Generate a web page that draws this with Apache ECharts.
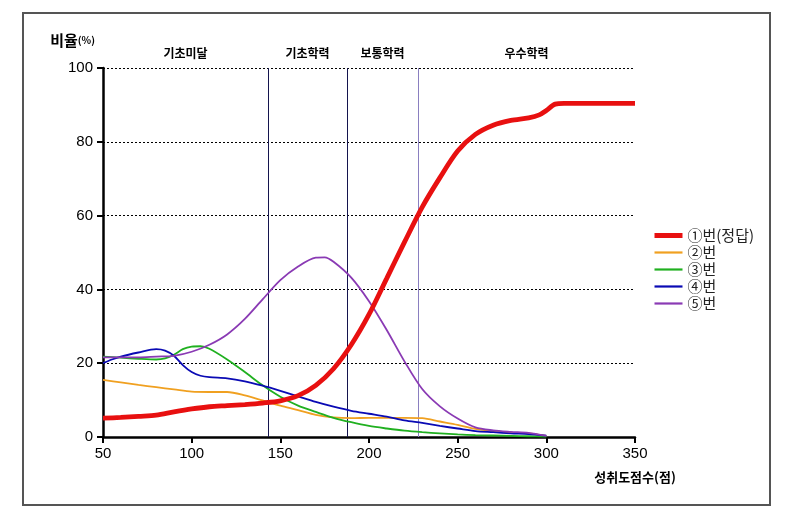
<!DOCTYPE html>
<html><head><meta charset="utf-8">
<script src="https://cdn.jsdelivr.net/npm/echarts@6/dist/echarts.min.js"></script>
<style>html,body{margin:0;padding:0;background:#fff}#c{width:791px;height:521px}</style>
</head><body><div id="c"></div>
<script>
const xTicks = [50, 100, 150, 200, 250, 300, 350];
const seriesNames = ['①번(정답)', '②번', '③번', '④번', '⑤번'];
const s1 = [[50,5.1],[60,5.3],[70,5.6],[80,5.9],[90,6.8],[100,7.6],[110,8.2],[120,8.5],[130,8.8],[140,9.2],[150,9.8],[160,11.2],[170,14],[180,18.5],[190,25],[200,33.2],[210,43],[220,52.8],[230,62.3],[240,70.3],[250,77.5],[260,82],[270,84.5],[280,85.8],[290,86.5],[296,87.3],[300,88.5],[305,90.2],[310,90.4],[330,90.4],[350,90.4]];
const s2 = [[50,15.5],[60,14.8],[70,14.1],[80,13.5],[90,12.9],[100,12.3],[110,12.2],[120,12.2],[130,11.3],[140,9.9],[150,8.5],[160,7.3],[170,6.0],[180,5.3],[190,5.1],[200,5.2],[210,5.2],[220,5.2],[230,5.1],[240,4.2],[250,3.3],[260,2.2],[270,1.6],[280,1.2],[290,1.0],[300,0.3]];
const s3 = [[50,21.8],[60,21.5],[70,21.2],[80,21.0],[85,21.3],[90,22.3],[95,23.8],[100,24.5],[105,24.6],[110,23.9],[120,21.0],[130,17.6],[140,14.0],[150,10.9],[160,8.5],[170,6.8],[180,5.2],[190,4.0],[200,3.0],[210,2.3],[220,1.7],[230,1.3],[240,1.0],[250,0.7],[260,0.5],[270,0.4],[280,0.3],[290,0.2],[300,0.1]];
const s4 = [[50,20.0],[55,21.0],[60,21.8],[70,22.9],[80,23.8],[85,23.4],[90,22.0],[95,19.5],[100,17.6],[105,16.6],[110,16.2],[120,15.9],[130,15.1],[140,13.9],[150,12.5],[160,11.0],[170,9.5],[180,8.2],[190,7.1],[200,6.3],[210,5.5],[220,4.5],[230,3.8],[240,3.0],[250,2.3],[260,1.6],[270,1.3],[280,1.0],[290,0.8],[300,0.4]];
const s5 = [[50,21.6],[60,21.6],[70,21.6],[80,21.8],[90,22.0],[100,23.1],[110,25.0],[120,27.8],[130,32.0],[140,37.3],[150,42.5],[160,46.2],[170,48.6],[175,48.7],[180,47.5],[190,43.2],[200,36.8],[210,29.0],[220,20.5],[230,13.0],[240,8.3],[250,5.0],[260,2.6],[270,1.8],[280,1.4],[290,1.1],[300,0.3]];
const bandNames = ['기초미달', '기초학력', '보통학력', '우수학력'];
const bandEdges = [50, 143, 187.6, 227.6, 350];
const cutLines = [143, 187.6, 227.6];

const colors = ['#e81010', '#f0a020', '#20b020', '#0a0ab4', '#8a3ab4'];
const allData = [s1, s2, s3, s4, s5];
const widths = [4.8, 1.8, 1.8, 1.8, 1.8];

const series = allData.map((d, i) => ({
  name: seriesNames[i], type: 'line', data: d, symbol: 'none', smooth: 0.3,
  z: i === 0 ? 10 : 5,
  lineStyle: { color: colors[i], width: widths[i] }, itemStyle: { color: colors[i] }
}));
series.push({
  type: 'line', data: [], silent: true,
  markLine: {
    symbol: 'none', silent: true, label: { show: false },
    data: cutLines.map((v, i) => ({ xAxis: v, lineStyle: { type: 'solid', width: 1, color: i < 2 ? '#14144e' : '#8a7fc0' } }))
  },
  markArea: {
    silent: true, itemStyle: { color: 'rgba(0,0,0,0)' },
    label: { show: true, position: 'top', distance: 9, color: '#000', fontWeight: 'bold', fontSize: 12, fontFamily: 'Noto Sans CJK KR' },
    data: bandNames.map((n, i) => [{ name: n, xAxis: bandEdges[i], yAxis: 100 }, { xAxis: bandEdges[i + 1], yAxis: 0 }])
  }
});

const chart = echarts.init(document.getElementById('c'), null, { renderer: 'canvas' });
chart.setOption({
  animation: false,
  backgroundColor: '#fff',
  grid: { left: 103, right: 156, top: 68, bottom: 84 },
  xAxis: {
    type: 'value', min: 50, max: 350, interval: 50,
    axisLine: { lineStyle: { color: '#000', width: 2.5 } },
    axisTick: { show: true, length: 6, lineStyle: { color: '#000', width: 2 } },
    axisLabel: { color: '#000', fontSize: 15, fontFamily: 'Liberation Sans', margin: 9, formatter: v => xTicks.includes(v) ? String(v) : '' },
    splitLine: { show: false },
    name: '성취도점수(점)', nameLocation: 'end', nameGap: 0,
    nameTextStyle: { color: '#000', fontSize: 13, fontWeight: 'bold', fontFamily: 'Noto Sans CJK KR', align: 'center', verticalAlign: 'top', padding: [34, 0, 0, 0] }
  },
  yAxis: {
    type: 'value', min: 0, max: 100, interval: 20,
    axisLine: { show: true, lineStyle: { color: '#000', width: 2.5 } },
    axisTick: { show: true, length: 6, lineStyle: { color: '#000', width: 2 } },
    axisLabel: { color: '#000', fontSize: 15, fontFamily: 'Liberation Sans', margin: 10 },
    splitLine: { show: true, lineStyle: { type: [2, 2], color: '#000', width: 1 } },
    name: '{a|비율}{b|(%)}', nameLocation: 'end', nameGap: 20,
    nameTextStyle: { align: 'right', padding: [0, 8, 0, 0], rich: { a: { fontSize: 15, fontWeight: 'bold', color: '#000', fontFamily: 'Noto Sans CJK KR' }, b: { fontSize: 10, fontWeight: 'bold', color: '#000', fontFamily: 'Noto Sans CJK KR' } } }
  },
  legend: {
    data: seriesNames.map((n, i) => ({ name: n, lineStyle: { width: i === 0 ? 5 : 2.2 } })),
    orient: 'vertical', left: 647, top: 223, itemGap: 2,
    itemWidth: 28, itemHeight: 15,
    itemStyle: { opacity: 0 },
    textStyle: { fontSize: 15, color: '#222', fontFamily: 'Noto Sans CJK KR' }
  },
  graphic: [{ type: 'rect', shape: { x: 23, y: 13, width: 747, height: 492 }, style: { fill: 'none', stroke: '#555', lineWidth: 2 }, silent: true }],
  series: series
});
</script></body></html>
